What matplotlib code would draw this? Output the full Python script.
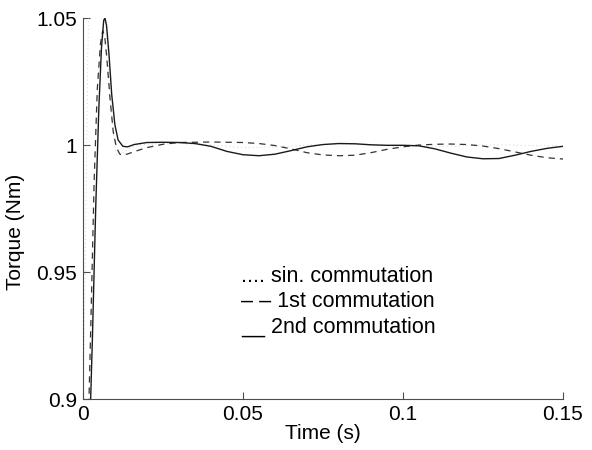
import matplotlib.pyplot as plt

plt.rcParams['font.family'] = ['Liberation Sans', 'DejaVu Sans']

# 2nd commutation (solid)
t_2nd = [0.0022, 0.0030, 0.0040, 0.0050, 0.0058, 0.0065, 0.0069, 0.0074, 0.0082,
         0.0090, 0.0100, 0.0110, 0.0125, 0.0140, 0.0160, 0.0200, 0.0250, 0.0300,
         0.0350, 0.0400, 0.0450, 0.0500, 0.0550, 0.0600, 0.0650, 0.0700, 0.0750,
         0.0800, 0.0850, 0.0900, 0.0950, 0.1000, 0.1050, 0.1100, 0.1150, 0.1200,
         0.1250, 0.1300, 0.1350, 0.1400, 0.1450, 0.1500]
T_2nd = [0.890, 0.925, 0.975, 1.015, 1.038, 1.049, 1.050, 1.047, 1.035,
         1.020, 1.008, 1.002, 0.9995, 0.9993, 1.0002, 1.0010, 1.0011, 1.0010,
         1.0006, 0.9995, 0.9975, 0.9962, 0.9958, 0.9964, 0.9978, 0.9993, 1.0002,
         1.0006, 1.0005, 1.0001, 0.9999, 0.9999, 0.9997, 0.9985, 0.9968, 0.9953,
         0.9946, 0.9947, 0.9960, 0.9975, 0.9987, 0.9995]

# 1st commutation (dashed)
t_1st = [0.0015, 0.0025, 0.0035, 0.0045, 0.0055, 0.0062, 0.0068, 0.0075, 0.0085,
         0.0095, 0.0105, 0.0115, 0.0125, 0.0140, 0.0170, 0.0200, 0.0250, 0.0300,
         0.0400, 0.0500, 0.0550, 0.0600, 0.0650, 0.0700, 0.0750, 0.0800, 0.0850,
         0.0900, 0.0950, 0.1000, 0.1050, 0.1100, 0.1150, 0.1200, 0.1250, 0.1300,
         0.1350, 0.1400, 0.1450, 0.1500]
T_1st = [0.880, 0.930, 0.985, 1.022, 1.040, 1.045, 1.043, 1.034, 1.018,
         1.005, 0.999, 0.9965, 0.9960, 0.9965, 0.9978, 0.9990, 1.0003, 1.0010,
         1.0012, 1.0010, 1.0006, 0.9998, 0.9985, 0.9970, 0.9961, 0.9958, 0.9960,
         0.9970, 0.9983, 0.9993, 1.0000, 1.0003, 1.0004, 1.0002, 0.9996, 0.9986,
         0.9973, 0.9960, 0.9950, 0.9945]

# sinusoidal commutation (dotted, printed very light)
t_sin = [0.0000, 0.0008, 0.0016, 0.0024, 0.0035, 0.0050, 0.0065, 0.0080, 0.0090,
         0.0100, 0.0105, 0.0115, 0.0130, 0.0160, 0.0200, 0.0300, 0.0400, 0.0500,
         0.0600, 0.0700, 0.0800, 0.0900, 0.1000, 0.1100, 0.1200, 0.1300, 0.1400,
         0.1500]
T_sin = [0.880, 0.960, 1.040, 1.090, 1.110, 1.090, 1.060, 1.030, 1.012,
         0.999, 0.9962, 0.9960, 0.9975, 0.9995, 1.0004, 1.0006, 1.0000, 0.9990,
         0.9992, 1.0000, 1.0004, 1.0000, 0.9994, 0.9994, 0.9998, 1.0001, 0.9998,
         0.9996]

legend_lines = ['.... sin. commutation', '\u2013 \u2013 1st commutation',
                '__ 2nd commutation']

fig = plt.figure(figsize=(5.92, 4.5), dpi=100)
ax = fig.add_axes([0.140, 0.113, 0.811, 0.847])

ax.plot(t_sin, T_sin, color='0.82', lw=0.7, linestyle=(0, (1, 3)))
ax.plot(t_1st, T_1st, color='0.2', lw=0.9, linestyle=(0, (5, 4)))
ax.plot(t_2nd, T_2nd, color='0.1', lw=1.0, linestyle='-')

ax.set_xlim(0, 0.15)
ax.set_ylim(0.9, 1.05)
ax.set_xticks([0, 0.05, 0.1, 0.15])
ax.set_xticklabels(['0', '0.05', '0.1', '0.15'])
ax.set_yticks([0.9, 0.95, 1.0, 1.05])
ax.set_yticklabels(['0.9', '0.95', '1', '1.05'])

for side in ('top', 'right'):
    ax.spines[side].set_visible(False)
for side in ('left', 'bottom'):
    ax.spines[side].set_color('0.3')
    ax.spines[side].set_linewidth(0.8)
ax.tick_params(direction='in', length=5, width=0.8, labelsize=15, pad=4,
               color='0.3')

ax.set_xlabel('Time (s)', fontsize=15, labelpad=0)
ax.set_ylabel('Torque (Nm)', fontsize=15)
ax.yaxis.set_label_coords(-0.12, 0.44)

for i, line in enumerate(legend_lines):
    ax.text(0.33, 0.322 - i * 0.066, line, transform=ax.transAxes,
            fontsize=15.5, ha='left', va='center')

fig.savefig('out.png', dpi=100)
